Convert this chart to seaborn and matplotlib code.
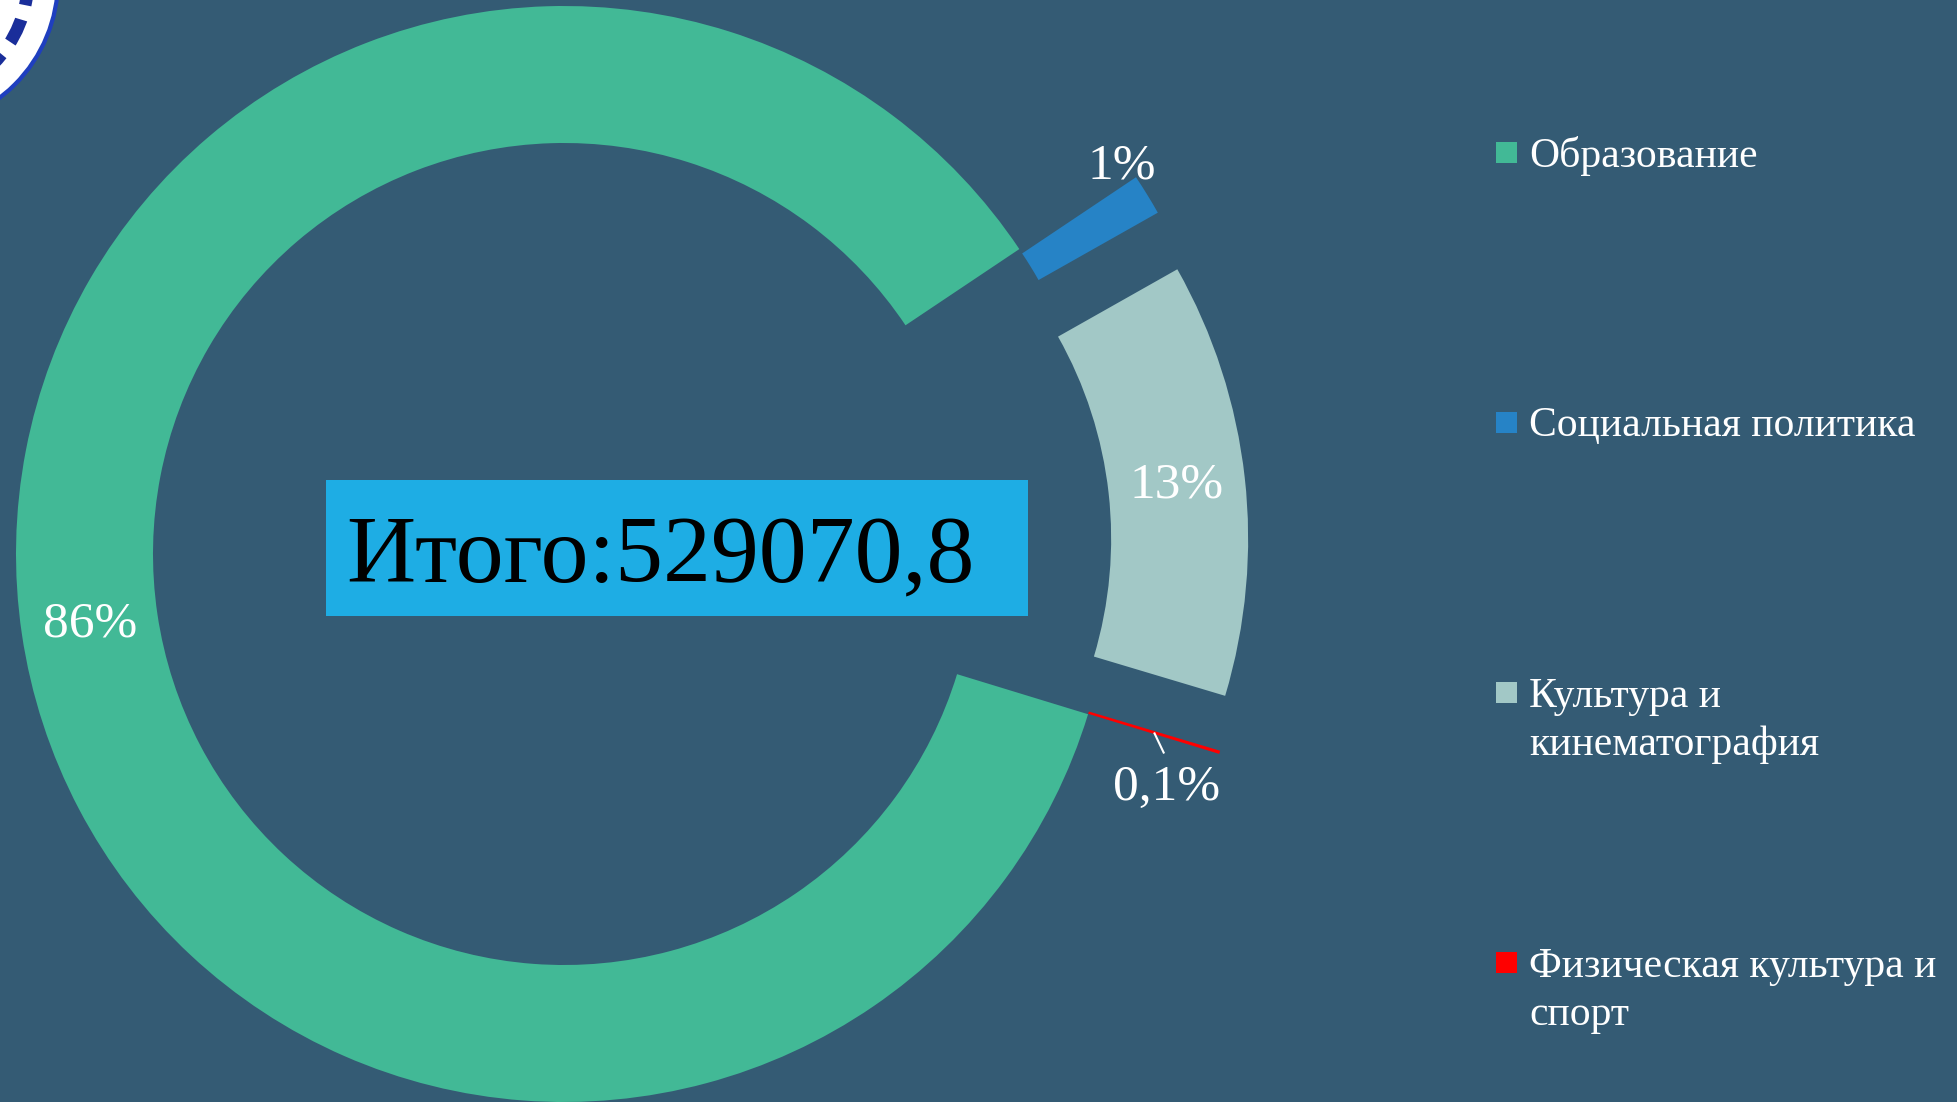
import numpy as np
import matplotlib
matplotlib.use("Agg")
import matplotlib.pyplot as plt
import matplotlib.patches as mpatches
import seaborn as sns

# data
categories = ["Образование", "Социальная политика",
              "Культура и\nкинематография", "Физическая культура и\nспорт"]
values = [454400.0, 6400.0, 67770.8, 500.0]
colors = ["#42B996", "#2683C6", "#A2C8C6", "#FF0000"]

bg = "#345B74"
W, H = 1957, 1102

sns.set_theme(style="white", rc={"figure.facecolor": bg, "axes.facecolor": bg})
plt.rcParams["font.family"] = ["Liberation Serif", "DejaVu Serif"]
palette = sns.color_palette(colors)

fig = plt.figure(figsize=(W / 100, H / 100), dpi=100)
ax = fig.add_axes([0, 0, 1, 1])

# pie in pixel-like coordinates (y up)
cx, cy, R = 564, H - 554, 548
explode = [0, 0.25 * R, 0.25 * R, 0.25 * R]
wedges, _ = ax.pie(values, colors=palette, startangle=-17, counterclock=False,
                   explode=explode, center=(cx, cy), radius=R,
                   wedgeprops=dict(width=0.25 * R, linewidth=0))

total = sum(values)


def pct_label(v):
    p = v / total * 100
    if p < 1:
        return f"{p:.1f}%".replace(".", ",")
    return f"{p:.0f}%"


def polar(w, frac, dang=0.0):
    th = np.deg2rad((w.theta1 + w.theta2) / 2 + dang)
    x0, y0 = w.center
    return x0 + frac * R * np.cos(th), y0 + frac * R * np.sin(th)


lab_kw = dict(color="white", fontsize=37, ha="center", va="center")
# green and grey labels inside ring
for i in (0, 2):
    x, y = polar(wedges[i], 0.875)
    ax.text(x, y, pct_label(values[i]), **lab_kw)
# blue label outside
x, y = polar(wedges[1], 0.99, 4.0)
ax.text(x, y, pct_label(values[1]), **lab_kw)
# red label below the wedge, with a short leader
sx, sy = polar(wedges[3], 0.875)
ax.plot([sx, sx + 10], [sy, sy - 21], color="white", lw=1.5,
        solid_capstyle="butt")
ax.text(sx + 12, sy - 55, pct_label(values[3]), **lab_kw)

# total box
ax.add_patch(mpatches.Rectangle((326, H - 616), 702, 136, facecolor="#1EADE4",
                                edgecolor="none"))
ax.text(346, H - 582, "Итого:" + f"{total:.1f}".replace(".", ","),
        fontsize=69, color="black", ha="left", va="baseline")

# legend
for i, (lab, col) in enumerate(zip(categories, colors)):
    yc = 152.5 + i * 270
    ax.add_patch(mpatches.Rectangle((1496, H - yc - 10.5), 21, 21,
                                    facecolor=col, edgecolor="none"))
    for k, line in enumerate(lab.split("\n")):
        ax.text(1529, H - (yc + 14 + k * 48.7), line, fontsize=30,
                color="white", ha="left", va="baseline")

# logo fragment in the corner
ax.add_patch(mpatches.Circle((-90, H + 20), 148, facecolor="white",
                             edgecolor="#1F3FBF", lw=3, clip_on=True))
ax.add_patch(mpatches.Circle((-90, H + 20), 118, facecolor="none",
                             edgecolor="#1A2E9A", lw=9, ls=(0, (2, 1.2)),
                             clip_on=True))

ax.set_xlim(0, W)
ax.set_ylim(0, H)
ax.set_aspect("equal")
ax.set_axis_off()

fig.savefig("out.png", dpi=100, facecolor=bg)
